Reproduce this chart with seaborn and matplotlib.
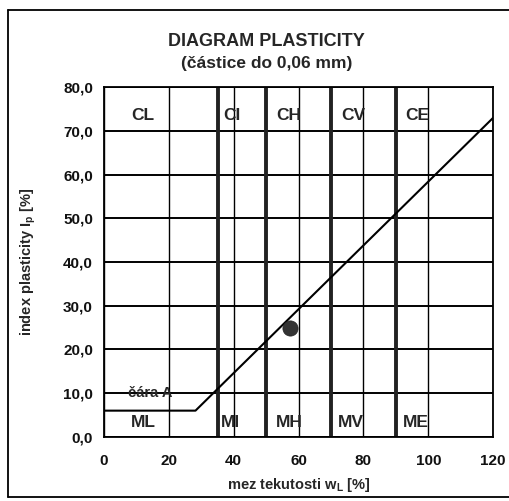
import matplotlib
matplotlib.use("Agg")
import matplotlib.pyplot as plt
import seaborn as sns
import pandas as pd
from matplotlib.lines import Line2D
from matplotlib.ticker import FuncFormatter

# Data
aline_wl = [0, 28.2, 120]
aline_ip = [6, 6, 73]
sample_wl = [57.5]
sample_ip = [25.0]
boundaries = [35, 50, 70, 90]
upper_labels = ["CL", "CI", "CH", "CV", "CE"]
upper_x = [12, 39.5, 57, 77, 96.5]
lower_labels = ["ML", "MI", "MH", "MV", "ME"]
lower_x = [12, 39, 57, 76, 96]
x_ticks = [0, 20, 40, 60, 80, 100, 120]
y_ticks = [0, 10, 20, 30, 40, 50, 60, 70, 80]

sns.set_theme(style="white")
plt.rcParams['font.family'] = ['Liberation Sans', 'DejaVu Sans']
plt.rcParams['mathtext.fontset'] = 'custom'
plt.rcParams['mathtext.rm'] = 'Liberation Sans:bold'

fig = plt.figure(figsize=(5.1, 5.01), dpi=100)
ax = fig.add_axes([0.204, 0.128, 0.763, 0.698])

# frame around figure (left, top, bottom; right edge cut off)
fx0, fy0, fy1 = 0.016, 0.008, 0.98
for xs, ys in [([fx0, fx0], [fy0, fy1]), ([fx0, 1.01], [fy1, fy1]), ([fx0, 1.01], [fy0, fy0])]:
    fig.add_artist(Line2D(xs, ys, transform=fig.transFigure, color="black", linewidth=1.3))

ax.set_xlim(0, 120)
ax.set_ylim(0, 80)

for y in y_ticks:
    ax.axhline(y, color="black", linewidth=1.4, zorder=1)
for x in x_ticks:
    ax.axvline(x, color="black", linewidth=1.0, zorder=1)
for b in boundaries:
    ax.axvline(b, color="#222222", linewidth=2.8, zorder=2)

df_line = pd.DataFrame({"wl": aline_wl, "ip": aline_ip})
sns.lineplot(data=df_line, x="wl", y="ip", color="black", linewidth=1.5, ax=ax,
             sort=False, zorder=3)
df_pt = pd.DataFrame({"wl": sample_wl, "ip": sample_ip})
sns.scatterplot(data=df_pt, x="wl", y="ip", color="#333333", s=120, ax=ax,
                edgecolor="#222222", linewidth=0.5, zorder=4)

for lab, x in zip(upper_labels, upper_x):
    ax.text(x, 73.5, lab, ha="center", va="center", fontsize=12.5,
            fontweight="bold", zorder=5)
for lab, x in zip(lower_labels, lower_x):
    ax.text(x, 3.3, lab, ha="center", va="center", fontsize=12.5,
            fontweight="bold", zorder=5)
ax.text(14.2, 10, "čára A", ha="center", va="center", fontsize=10.5,
        fontweight="bold", zorder=5)

ax.set_xticks(x_ticks)
ax.set_yticks(y_ticks)
ax.yaxis.set_major_formatter(FuncFormatter(lambda v, p: f"{v:.1f}".replace(".", ",")))
ax.tick_params(axis="both", direction="out", length=4, width=1, color="black",
               labelsize=11)
ax.tick_params(axis="x", pad=8)
ax.tick_params(axis="y", pad=4)
for t in ax.get_xticklabels() + ax.get_yticklabels():
    t.set_fontweight("bold")
    t.set_color("#111111")
for s in ax.spines.values():
    s.set_color("black")
    s.set_linewidth(1.3)

ax.set_xlabel(r"mez tekutosti w$_\mathregular{L}$ [%]", fontsize=10.5, fontweight="bold",
              labelpad=6)
ax.set_ylabel(r"index plasticity I$_\mathregular{p}$ [%]", fontsize=10.5, fontweight="bold",
              labelpad=18)

fig.text(0.523, 0.918, "DIAGRAM PLASTICITY", ha="center", va="center",
         fontsize=13, fontweight="bold")
fig.text(0.523, 0.874, "(částice do 0,06 mm)", ha="center", va="center",
         fontsize=12.5, fontweight="bold")

fig.savefig("out.png", dpi=100, facecolor="white")
